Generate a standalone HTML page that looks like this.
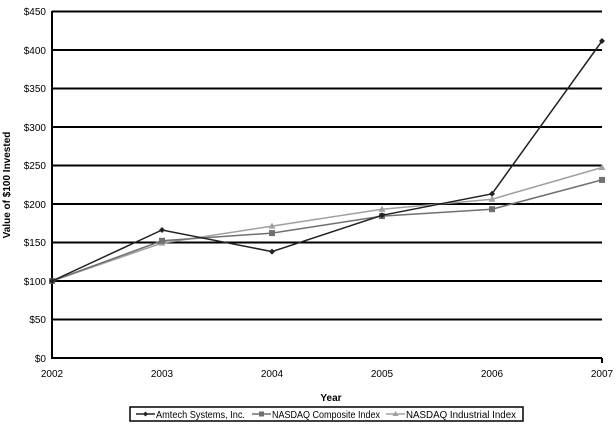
<!DOCTYPE html>
<html><head><style>
body{margin:0;background:#fff;}
svg text{font-family:"Liberation Sans",Arial,sans-serif;font-size:10px;fill:#000;}
</style></head><body>
<svg width="616" height="429" viewBox="0 0 616 429" xmlns="http://www.w3.org/2000/svg">
<rect width="616" height="429" fill="#fff"/>
<g stroke="#000" stroke-width="2">
<line x1="52" y1="11.5" x2="602" y2="11.5"/>
<line x1="52" y1="50" x2="602" y2="50"/>
<line x1="52" y1="88.5" x2="602" y2="88.5"/>
<line x1="52" y1="127" x2="602" y2="127"/>
<line x1="52" y1="165.5" x2="602" y2="165.5"/>
<line x1="52" y1="204" x2="602" y2="204"/>
<line x1="52" y1="242.5" x2="602" y2="242.5"/>
<line x1="52" y1="281" x2="602" y2="281"/>
<line x1="52" y1="319.5" x2="602" y2="319.5"/>
<line x1="52" y1="358" x2="602" y2="358"/>
<line x1="52" y1="11" x2="52" y2="359"/>
<line x1="602" y1="358" x2="602" y2="363"/>
</g>
<g text-anchor="end">
<text x="46" y="15">$450</text><text x="46" y="54">$400</text><text x="46" y="92">$350</text>
<text x="46" y="131">$300</text><text x="46" y="169">$250</text><text x="46" y="208">$200</text>
<text x="46" y="246">$150</text><text x="46" y="285">$100</text><text x="46" y="323">$50</text>
<text x="46" y="362">$0</text>
</g>
<g text-anchor="middle">
<text x="52" y="377">2002</text><text x="162" y="377">2003</text><text x="272" y="377">2004</text>
<text x="382" y="377">2005</text><text x="492" y="377">2006</text><text x="602" y="377">2007</text>
<text x="331" y="401" font-weight="bold">Year</text>
<text transform="translate(10,185) rotate(-90)" font-weight="bold">Value of $100 Invested</text>
</g>
<polyline fill="none" stroke="#a0a0a0" stroke-width="1.5" points="52,281 162,243.1 272,226.1 382,209.2 492,199.2 602,167.5"/>
<g fill="#a0a0a0"><path d="M52,277.5l3.5,6h-7z"/><path d="M162,239.6l3.5,6h-7z"/><path d="M272,222.6l3.5,6h-7z"/><path d="M382,205.7l3.5,6h-7z"/><path d="M492,195.7l3.5,6h-7z"/><path d="M602,164l3.5,6h-7z"/></g>
<polyline fill="none" stroke="#707070" stroke-width="1.5" points="52,281 162,240.8 272,233.1 382,216.1 492,209.2 602,179.9"/>
<g fill="#707070"><rect x="49" y="278" width="6" height="6"/><rect x="159" y="237.8" width="6" height="6"/><rect x="269" y="230.1" width="6" height="6"/><rect x="379" y="213.1" width="6" height="6"/><rect x="489" y="206.2" width="6" height="6"/><rect x="599" y="176.9" width="6" height="6"/></g>
<polyline fill="none" stroke="#222" stroke-width="1.5" points="52,281 162,230 272,251.6 382,215.3 492,193.8 602,41"/>
<g fill="#222"><path d="M52,278l3,3l-3,3l-3,-3z"/><path d="M162,227l3,3l-3,3l-3,-3z"/><path d="M272,248.6l3,3l-3,3l-3,-3z"/><path d="M382,212.3l3,3l-3,3l-3,-3z"/><path d="M492,190.8l3,3l-3,3l-3,-3z"/><path d="M602,38l3,3l-3,3l-3,-3z"/></g>
<rect x="130" y="407" width="393" height="14" fill="#fff" stroke="#000" stroke-width="1.5"/>
<line x1="136" y1="414" x2="155" y2="414" stroke="#222" stroke-width="1.5"/><path d="M145.5,411.5l2.5,2.5l-2.5,2.5l-2.5,-2.5z" fill="#222"/>
<text x="156" y="418" font-size="9" textLength="89" lengthAdjust="spacingAndGlyphs">Amtech Systems, Inc.</text>
<line x1="252" y1="414" x2="271" y2="414" stroke="#707070" stroke-width="1.5"/><rect x="259" y="411.5" width="5" height="5" fill="#707070"/>
<text x="272" y="418" font-size="9" textLength="108" lengthAdjust="spacingAndGlyphs">NASDAQ Composite Index</text>
<line x1="386" y1="414" x2="405" y2="414" stroke="#a0a0a0" stroke-width="1.5"/><path d="M395.5,411l3,5h-6z" fill="#a0a0a0"/>
<text x="406" y="418" font-size="9" textLength="110" lengthAdjust="spacingAndGlyphs">NASDAQ Industrial Index</text>
</svg>
</body></html>
